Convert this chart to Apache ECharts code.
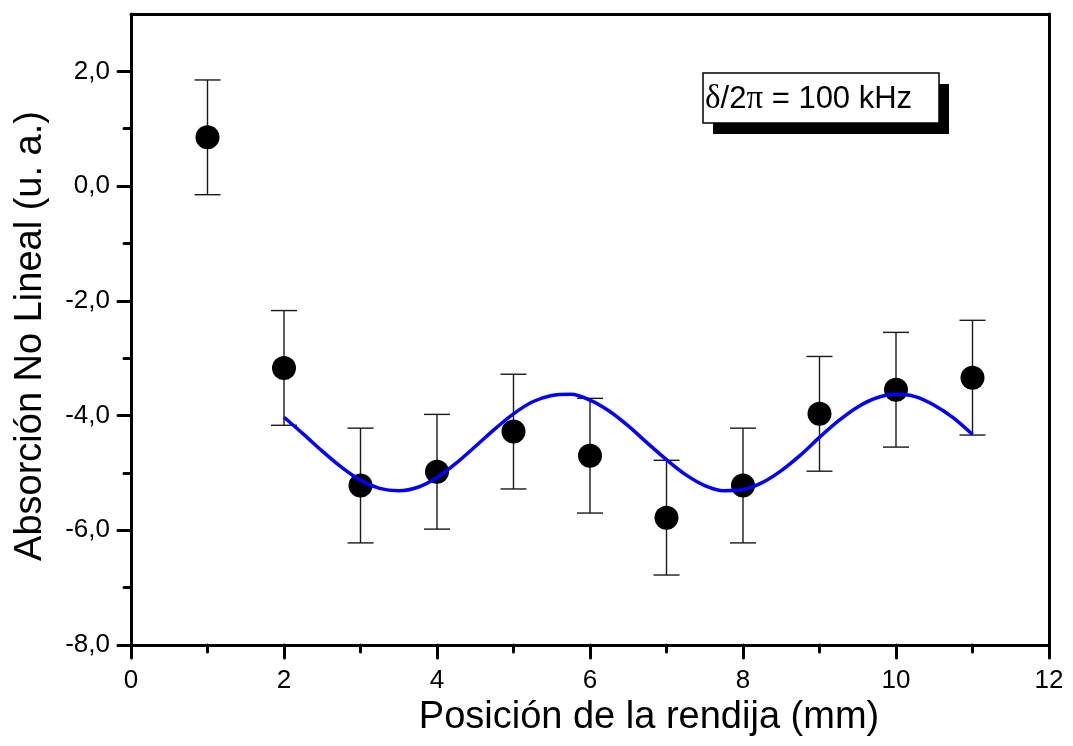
<!DOCTYPE html>
<html>
<head>
<meta charset="utf-8">
<title>Absorción No Lineal vs posición de la rendija</title>
<script src="https://cdn.jsdelivr.net/npm/echarts@6/dist/echarts.min.js"></script>
<style>
  html, body { margin: 0; padding: 0; background: #fff; }
  #chart { width: 1073px; height: 746px; }
</style>
</head>
<body>
<div id="chart"></div>
<script>
// Measured points: slit position (mm), nonlinear absorption (a.u.), error half-width
const posX = [1, 2, 3, 4, 5, 6, 7, 8, 9, 10, 11];
const absY = [0.85, -3.17, -5.22, -4.98, -4.28, -4.70, -5.78, -5.22, -3.97, -3.55, -3.34];
const errY = [1.0, 1.0, 1.0, 1.0, 1.0, 1.0, 1.0, 1.0, 1.0, 1.0, 1.0];

// Fitted curve samples
const fitX = [2, 2.25, 2.5, 2.75, 3, 3.25, 3.5, 3.75, 4, 4.25, 4.5, 4.75, 5, 5.25, 5.5, 5.75,
              6, 6.25, 6.5, 6.75, 7, 7.25, 7.5, 7.75, 8, 8.25, 8.5, 8.75, 9, 9.25, 9.5, 9.75,
              10, 10.25, 10.5, 10.75, 11];
const fitY = [-4.03, -4.32, -4.62, -4.90, -5.13, -5.27, -5.31, -5.25, -5.08, -4.83, -4.54, -4.24,
              -3.97, -3.76, -3.65, -3.63, -3.73, -3.92, -4.18, -4.48, -4.77, -5.03, -5.22, -5.31,
              -5.29, -5.17, -4.96, -4.69, -4.38, -4.09, -3.85, -3.69, -3.63, -3.67, -3.82, -4.04,
              -4.33];

// Axis ticks
const xMajorTicks = [0, 2, 4, 6, 8, 10, 12];
const xMinorTicks = [1, 3, 5, 7, 9, 11];
const yMajorTicks = [-8, -6, -4, -2, 0, 2];
const yMinorTicks = [-7, -5, -3, -1, 1];

// Texts
const xTitle = 'Posición de la rendija (mm)';
const yTitle = 'Absorción No Lineal (u. a.)';
const noteText = '{g|δ}/2{g|π} = 100 kHz';

const FONT = "'Liberation Sans', Arial, Helvetica, sans-serif";
const X_MIN = 0, X_MAX = 12, Y_MIN = -8, Y_MAX = 3;

const chart = echarts.init(document.getElementById('chart'), null, { renderer: 'canvas' });

const frameLine = { show: true, onZero: false, lineStyle: { color: '#000', width: 3 } };
const noLine = { show: false, onZero: false };
const tickStyle = { color: '#000', width: 3, cap: 'round' };

const option = {
  animation: false,
  backgroundColor: '#fff',
  grid: { left: 131, right: 24, top: 14, bottom: 101, containLabel: false },
  xAxis: [
    {
      type: 'value', min: X_MIN, max: X_MAX, position: 'bottom',
      axisLine: frameLine,
      axisTick: { show: true, customValues: xMajorTicks, length: 13, lineStyle: tickStyle },
      axisLabel: { customValues: xMajorTicks, margin: 23, fontFamily: FONT, fontSize: 26, color: '#000' },
      splitLine: { show: false }
    },
    {
      type: 'value', min: X_MIN, max: X_MAX, position: 'bottom',
      axisLine: noLine,
      axisTick: { show: true, customValues: xMinorTicks, length: 7, lineStyle: tickStyle },
      axisLabel: { show: false }, splitLine: { show: false }
    },
    {
      type: 'value', min: X_MIN, max: X_MAX, position: 'top',
      axisLine: frameLine, axisTick: { show: false }, axisLabel: { show: false }, splitLine: { show: false }
    }
  ],
  yAxis: [
    {
      type: 'value', min: Y_MIN, max: Y_MAX, position: 'left',
      axisLine: frameLine,
      axisTick: { show: true, customValues: yMajorTicks, length: 13, lineStyle: tickStyle },
      axisLabel: {
        customValues: yMajorTicks, margin: 21, fontFamily: FONT, fontSize: 26, color: '#000',
        formatter: v => v.toFixed(1).replace('.', ',')
      },
      splitLine: { show: false }
    },
    {
      type: 'value', min: Y_MIN, max: Y_MAX, position: 'left',
      axisLine: noLine,
      axisTick: { show: true, customValues: yMinorTicks, length: 7, lineStyle: tickStyle },
      axisLabel: { show: false }, splitLine: { show: false }
    },
    {
      type: 'value', min: Y_MIN, max: Y_MAX, position: 'right',
      axisLine: frameLine, axisTick: { show: false }, axisLabel: { show: false }, splitLine: { show: false }
    }
  ],
  series: [
    {
      // error bars with caps
      type: 'custom',
      z: 2,
      data: posX.map((x, i) => [x, absY[i] - errY[i], absY[i] + errY[i]]),
      renderItem: function (params, api) {
        const x = api.value(0);
        const lo = api.coord([x, api.value(1)]);
        const hi = api.coord([x, api.value(2)]);
        const half = 13;
        const style = { stroke: '#1a1a1a', lineWidth: 1.4 };
        return {
          type: 'group',
          children: [
            { type: 'line', shape: { x1: lo[0], y1: lo[1], x2: hi[0], y2: hi[1] }, style: style },
            { type: 'line', shape: { x1: hi[0] - half, y1: hi[1], x2: hi[0] + half, y2: hi[1] }, style: style },
            { type: 'line', shape: { x1: lo[0] - half, y1: lo[1], x2: lo[0] + half, y2: lo[1] }, style: style }
          ]
        };
      }
    },
    {
      type: 'scatter',
      z: 3,
      symbol: 'circle',
      symbolSize: 24,
      itemStyle: { color: '#000', opacity: 1 },
      data: posX.map((x, i) => [x, absY[i]])
    },
    {
      type: 'line',
      z: 4,
      smooth: 0.3,
      showSymbol: false,
      symbol: 'none',
      lineStyle: { color: '#0000ff', width: 3.5 },
      data: fitX.map((x, i) => [x, fitY[i]])
    }
  ],
  graphic: [
    // axis titles
    {
      type: 'text', x: 649, y: 718,
      style: { text: xTitle, fontFamily: FONT, fontSize: 38, fill: '#000', align: 'center', verticalAlign: 'middle' }
    },
    {
      type: 'text', x: 31, y: 336, rotation: Math.PI / 2,
      style: { text: yTitle, fontFamily: FONT, fontSize: 38, fill: '#000', align: 'center', verticalAlign: 'middle' }
    },
    // annotation box with drop shadow
    { type: 'rect', z: 10, shape: { x: 713, y: 84, width: 236, height: 50 }, style: { fill: '#000' } },
    { type: 'rect', z: 11, shape: { x: 703, y: 73, width: 236, height: 50 }, style: { fill: '#fff', stroke: '#000', lineWidth: 1.5 } },
    {
      type: 'text', z: 12, x: 705, y: 99,
      style: {
        text: noteText,
        fontFamily: FONT, fontSize: 31, fill: '#000', verticalAlign: 'middle',
        rich: {
          g: { fontFamily: "'Liberation Serif', 'Times New Roman', serif", fontSize: 33, fill: '#000' }
        }
      }
    }
  ]
};

chart.setOption(option);
</script>
</body>
</html>
